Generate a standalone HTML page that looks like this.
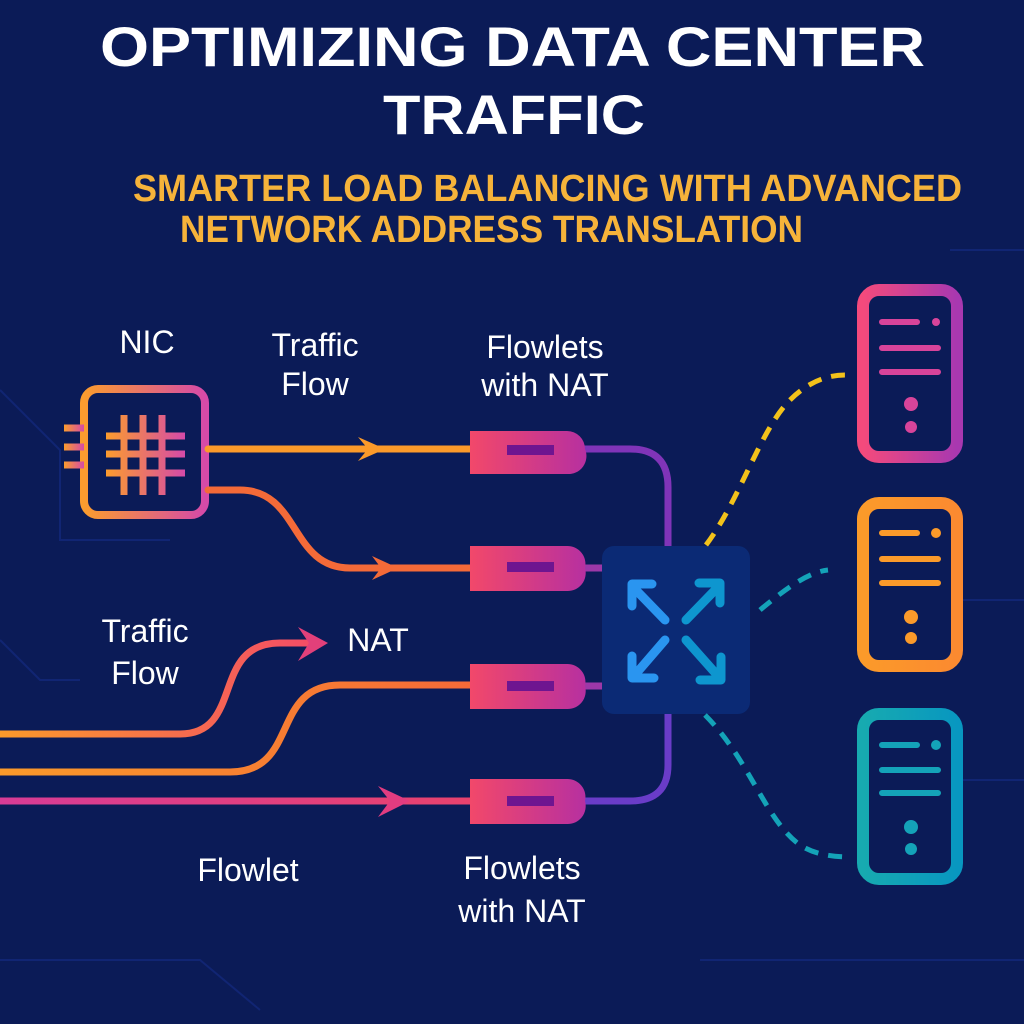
<!DOCTYPE html>
<html><head><meta charset="utf-8"><style>
body{margin:0;width:1024px;height:1024px;overflow:hidden;background:#0b1b57}
svg{display:block}
text{font-family:"Liberation Sans",sans-serif}
</style></head><body>
<svg width="1024" height="1024" viewBox="0 0 1024 1024">
<defs>
<linearGradient id="nic" x1="0" x2="1"><stop offset="0" stop-color="#fb9c2e"/><stop offset="1" stop-color="#d54aa8"/></linearGradient>
<linearGradient id="pill" x1="0" x2="1"><stop offset="0" stop-color="#f2486a"/><stop offset="1" stop-color="#b730a0"/></linearGradient>
<linearGradient id="s1" x1="0" x2="1"><stop offset="0" stop-color="#f44a7c"/><stop offset="1" stop-color="#a838b0"/></linearGradient>
<linearGradient id="s2" x1="0" x2="1"><stop offset="0" stop-color="#fb9a2a"/><stop offset="1" stop-color="#fb8a30"/></linearGradient>
<linearGradient id="s3" x1="0" x2="1"><stop offset="0" stop-color="#17aab0"/><stop offset="1" stop-color="#0897c0"/></linearGradient>
<linearGradient id="l1" gradientUnits="userSpaceOnUse" x1="0" y1="0" x2="330" y2="0"><stop offset="0" stop-color="#fb9a2a"/><stop offset="1" stop-color="#f2486a"/></linearGradient>
<linearGradient id="l2" gradientUnits="userSpaceOnUse" x1="0" y1="0" x2="470" y2="0"><stop offset="0" stop-color="#fb9a2a"/><stop offset="1" stop-color="#f46a38"/></linearGradient>
<linearGradient id="l3" gradientUnits="userSpaceOnUse" x1="0" y1="0" x2="470" y2="0"><stop offset="0" stop-color="#d83c96"/><stop offset="1" stop-color="#e8426e"/></linearGradient>
</defs>
<g stroke="#13287a" stroke-width="2" fill="none" opacity="0.8">
<path d="M0 390 L60 450 L60 540 L170 540"/>
<path d="M0 640 L40 680 L80 680"/>
<path d="M950 250 L1024 250"/><path d="M960 600 L1024 600"/><path d="M960 780 L1024 780"/>
<path d="M0 960 L200 960 L260 1010"/><path d="M700 960 L1024 960"/>
</g>
<text x="100" y="66" textLength="825" lengthAdjust="spacingAndGlyphs" fill="#fff" font-size="56" font-weight="bold">OPTIMIZING DATA CENTER</text>
<text x="383" y="134" textLength="262" lengthAdjust="spacingAndGlyphs" fill="#fff" font-size="56" font-weight="bold">TRAFFIC</text>
<text x="133" y="201" textLength="829" lengthAdjust="spacingAndGlyphs" fill="#f6b33a" font-size="38" font-weight="bold">SMARTER LOAD BALANCING WITH ADVANCED</text>
<text x="180" y="242" textLength="623" lengthAdjust="spacingAndGlyphs" fill="#f6b33a" font-size="38" font-weight="bold">NETWORK ADDRESS TRANSLATION</text>

<g fill="#fff" font-size="32" text-anchor="middle">
<text x="147" y="353">NIC</text>
<text x="315" y="356">Traffic</text><text x="315" y="395">Flow</text>
<text x="545" y="358">Flowlets</text><text x="545" y="396">with NAT</text>
<text x="145" y="642">Traffic</text><text x="145" y="684">Flow</text>
<text x="378" y="651">NAT</text>
<text x="248" y="881">Flowlet</text>
<text x="522" y="879">Flowlets</text><text x="522" y="922">with NAT</text>
</g>

<g stroke="url(#nic)" fill="none">
<rect x="84" y="389" width="121" height="126" rx="14" stroke-width="8"/>
<g stroke-width="7"><path d="M64 428H84M64 447H84M64 465H84"/>
<path d="M106 436H185M106 454H185M106 473H185M124 415V495M143 415V495M162 415V495"/></g>
</g>
<g fill="none" stroke-width="7" stroke-linecap="round">
<path d="M208 449H470" stroke="#fb9a2a"/>
<path d="M208 490H240C300 490 290 568 350 568H470" stroke="#f46a38"/>
<path d="M0 734H180C245 734 210 643 280 643H318" stroke="url(#l1)"/>
<path d="M0 772H230C300 772 270 685 340 685H470" stroke="url(#l2)"/>
<path d="M0 801H470" stroke="url(#l3)"/>
<path d="M585 449H630Q668 449 668 487V548" stroke="#8034b8"/>
<path d="M668 713V765Q668 801 630 801H585" stroke="#6a3cc8"/>
<path d="M585 568H604M585 686H604" stroke="#9c38a8"/>
</g>
<g>
<path d="M358 437L385 449L358 461L368 449Z" fill="#fb9a2a"/>
<path d="M372 556L398 568L372 580L381 568Z" fill="#f46a38"/>
<path d="M298 627L328 643L298 661L309 643Z" fill="#e2407a"/>
<path d="M378 786L410 801L378 817L390 801Z" fill="#e23c80"/>
</g>
<g>
<path d="M470 431H567A18 18 0 0 1 585 449V449A18 18 0 0 1 567 474H470Z" fill="url(#pill)"/>
<path d="M470 546H567A18 18 0 0 1 585 568A18 18 0 0 1 567 591H470Z" fill="url(#pill)"/>
<path d="M470 664H567A18 18 0 0 1 585 686A18 18 0 0 1 567 709H470Z" fill="url(#pill)"/>
<path d="M470 779H567A18 18 0 0 1 585 801A18 18 0 0 1 567 824H470Z" fill="url(#pill)"/>
<g fill="#6e1590"><rect x="507" y="445" width="47" height="10"/><rect x="507" y="562" width="47" height="10"/><rect x="507" y="681" width="47" height="10"/><rect x="507" y="796" width="47" height="10"/></g>
</g>
<rect x="602" y="546" width="148" height="168" rx="12" fill="#0b2a75"/>
<g stroke-width="9" stroke-linecap="round" fill="none" stroke-linejoin="round">
<g stroke="#2a95f0"><path d="M665 620L633 587M632 606V584H652"/><path d="M665 640L634 676M632 656V678H654"/></g>
<g stroke="#0e96cf"><path d="M686 620L718 587M699 583H720V603"/><path d="M686 640L718 676M721 657V680H700"/></g>
</g>
<g fill="none" stroke-width="5" stroke-dasharray="14 10">
<path d="M706 545C740 500 760 430 790 400C810 380 830 375 845 375" stroke="#f3c21a"/>
<path d="M760 610C790 585 810 572 828 570" stroke="#14a3b8"/>
<path d="M705 715C750 760 765 820 800 845C815 855 835 857 850 857" stroke="#14a3b8"/>
</g>
<g fill="none" stroke-width="12">
<rect x="863" y="290" width="94" height="167" rx="16" stroke="url(#s1)"/>
<rect x="863" y="503" width="94" height="163" rx="16" stroke="url(#s2)"/>
<rect x="863" y="714" width="94" height="165" rx="16" stroke="url(#s3)"/>
</g>
<g stroke-width="6" stroke-linecap="round">
<g stroke="#d8449a" fill="#d8449a"><path d="M882 322H917M882 348H938M882 372H938"/><circle cx="936" cy="322" r="4" stroke="none"/><circle cx="911" cy="404" r="7" stroke="none"/><circle cx="911" cy="427" r="6" stroke="none"/></g>
<g stroke="#fb9a2a" fill="#fb9a2a"><path d="M882 533H917M882 559H938M882 583H938"/><circle cx="936" cy="533" r="5" stroke="none"/><circle cx="911" cy="617" r="7" stroke="none"/><circle cx="911" cy="638" r="6" stroke="none"/></g>
<g stroke="#14a3b8" fill="#14a3b8"><path d="M882 745H917M882 770H938M882 793H938"/><circle cx="936" cy="745" r="5" stroke="none"/><circle cx="911" cy="827" r="7" stroke="none"/><circle cx="911" cy="849" r="6" stroke="none"/></g>
</g>
</svg>
</body></html>
